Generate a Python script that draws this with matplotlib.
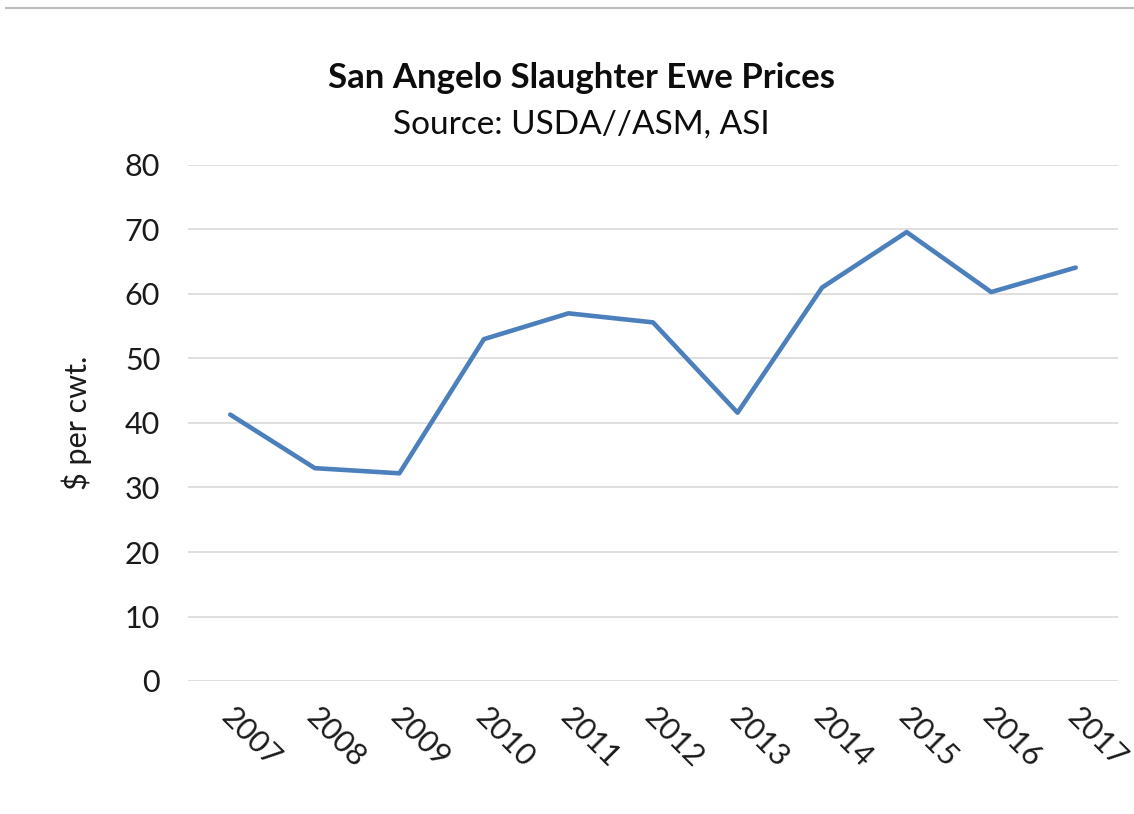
import matplotlib.pyplot as plt
from matplotlib.lines import Line2D
from matplotlib.transforms import ScaledTranslation

years = ['2007', '2008', '2009', '2010', '2011', '2012', '2013', '2014', '2015', '2016', '2017']
prices = [41.3, 33.0, 32.2, 53.0, 57.0, 55.6, 41.6, 61.0, 69.6, 60.3, 64.1]
y_ticks = [0, 10, 20, 30, 40, 50, 60, 70, 80]

plt.rcParams['font.family'] = ['Lato', 'DejaVu Sans']

fig = plt.figure(figsize=(11.34, 8.14), dpi=100)
ax = fig.add_axes([188 / 1134, 1 - 681 / 814, 930 / 1134, 516 / 814])

x = range(len(years))
ax.plot(x, prices, color='#4c80bd', linewidth=3.3, solid_capstyle='round', solid_joinstyle='round')

ax.set_xlim(-0.5, len(years) - 0.5)
ax.set_ylim(0, 80)
ax.set_yticks(y_ticks)
ax.set_yticklabels([str(v) for v in y_ticks], fontsize=22, color='#1a1a1a')
ax.set_xticks(list(x))
ax.set_xticklabels(years, fontsize=22, color='#1a1a1a', rotation=-45,
                   ha='left', va='top', rotation_mode='anchor')
ax.tick_params(axis='both', length=0)
ax.tick_params(axis='y', pad=20)
ax.tick_params(axis='x', pad=16)

# nudge the slanted year labels a little to the right
shift = ScaledTranslation(6 / 100, 0, fig.dpi_scale_trans)
for lab in ax.get_xticklabels():
    lab.set_transform(lab.get_transform() + shift)

ax.grid(axis='y', color='#d9d9d9', linewidth=1.2)
ax.set_axisbelow(True)
for s in ax.spines.values():
    s.set_visible(False)

ax.set_ylabel('$ per cwt.', fontsize=22, color='#1a1a1a', labelpad=24)

fig.text(581 / 1134, 1 - 78 / 814, 'San Angelo Slaughter Ewe Prices', ha='center', va='center',
         fontsize=25, fontweight='bold', color='#0d0d0d')
fig.text(581 / 1134, 1 - 125 / 814, 'Source: USDA//ASM, ASI', ha='center', va='center',
         fontsize=24, color='#0d0d0d')

# thin rule across the top
fig.add_artist(Line2D([6 / 1134, 1], [1 - 7.5 / 814, 1 - 7.5 / 814], color='#bdbdbd', linewidth=1.5))

fig.savefig('out.png', dpi=100)
